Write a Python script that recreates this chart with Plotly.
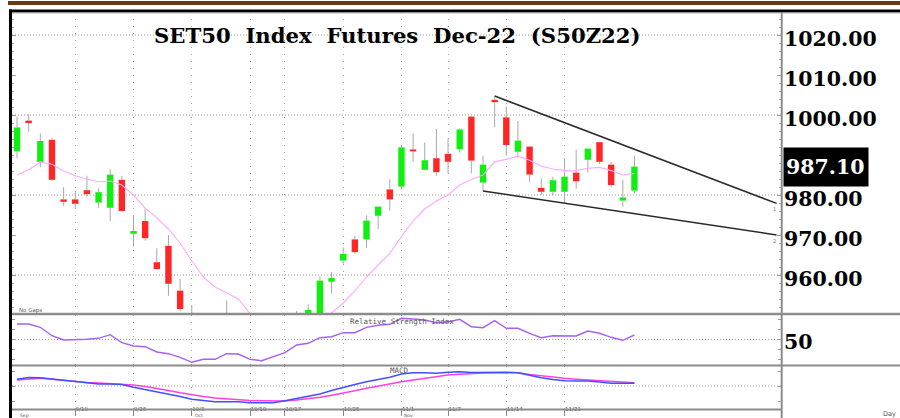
import plotly.graph_objects as go

# ---------------- data ----------------
open_ = [990.9, 998.6, 988.3, 993.8, 978.9, 978.9, 981.2, 978.1, 976.8, 983.8,
         970.3, 973.5, 963.2, 967.3, 956.1, 948.0, 943.0, 939.0, 945.0, 946.0,
         940.0, 934.0, 938.0, 942.0, 940.0, 949.6, 949.5, 958.3, 963.6, 968.9,
         968.9, 974.8, 981.4, 982.1, 991.3, 986.3, 989.2, 990.3, 991.5, 999.6,
         983.1, 1003.8, 999.4, 990.8, 992.1, 981.8, 980.8, 980.8, 985.6, 988.8,
         993.2, 987.6, 978.6, 981.1]
high = [999.6, 1000.2, 995.4, 994.3, 982.0, 981.0, 984.8, 981.7, 986.4, 984.8,
        974.7, 976.7, 966.7, 970.0, 959.0, 952.5, 948.0, 947.0, 953.6, 949.0,
        944.0, 940.0, 945.0, 948.0, 951.0, 952.7, 959.6, 960.7, 966.9, 969.8,
        974.9, 977.1, 983.9, 992.3, 995.4, 993.1, 996.5, 994.2, 996.7, 999.8,
        989.8, 1004.6, 1002.1, 998.5, 992.3, 984.2, 984.6, 989.2, 991.3, 991.6,
        993.2, 988.3, 983.8, 989.8]
low = [989.2, 995.8, 986.9, 983.5, 977.3, 976.5, 979.6, 976.8, 973.5, 976.0,
       967.2, 968.6, 961.5, 954.8, 951.0, 941.0, 936.0, 935.0, 942.0, 938.0,
       932.0, 930.0, 934.0, 937.0, 938.0, 947.5, 948.5, 955.4, 962.8, 965.3,
       966.7, 971.5, 976.1, 981.4, 988.3, 986.3, 984.8, 985.4, 990.6, 985.4,
       981.1, 996.9, 989.8, 989.3, 983.2, 980.0, 980.0, 977.9, 981.5, 985.6,
       987.8, 982.0, 977.1, 980.4]
close = [996.9, 998.0, 993.5, 983.8, 978.3, 977.8, 980.2, 980.7, 985.1, 976.0,
         971.0, 969.2, 961.5, 957.8, 951.5, 943.0, 938.0, 945.0, 947.0, 940.0,
         934.0, 938.0, 943.0, 939.0, 949.0, 951.3, 958.6, 959.3, 965.3, 965.7,
         973.6, 977.1, 978.9, 991.9, 990.9, 988.7, 985.7, 988.3, 996.4, 988.6,
         987.6, 1003.2, 992.5, 993.6, 985.1, 980.8, 983.7, 984.6, 983.4, 991.6,
         988.3, 982.5, 979.4, 987.1]
moving_avg = [985.0, 986.3, 988.2, 987.7, 986.0, 984.8, 984.0, 983.3, 983.5, 982.5,
              980.0, 976.7, 974.3, 971.5, 968.0, 963.5, 959.5, 957.0, 955.5, 954.0,
              950.3, 947.0, 944.0, 942.0, 942.0, 944.0, 947.0, 950.5, 953.0, 956.0,
              959.5, 962.5, 965.4, 969.6, 973.5, 976.5, 978.5, 980.0, 982.5, 983.9,
              985.0, 988.3, 988.9, 989.7, 988.7, 987.2, 986.5, 986.1, 986.1, 986.7,
              986.9, 986.1, 985.0, 985.4]
rsi = [65.3, 65.3, 62.0, 53.6, 49.3, 49.3, 50.0, 51.0, 54.6, 46.6,
       43.3, 42.6, 37.3, 35.6, 32.0, 27.0, 30.0, 30.0, 35.6, 35.3,
       30.0, 28.6, 32.6, 36.6, 44.3, 46.0, 51.6, 52.6, 56.6, 56.6,
       62.0, 64.0, 65.0, 71.0, 70.3, 69.3, 66.6, 67.3, 70.0, 62.6,
       61.6, 68.6, 61.0, 61.0, 56.0, 51.6, 53.6, 53.6, 53.3, 58.3,
       56.0, 52.0, 49.0, 54.3]
macd = [3.35, 4.25, 4.15, 3.5, 2.75, 2.0, 1.35, 1.0, 1.0, 0.75,
        -0.65, -1.75, -2.85, -4.0, -5.25, -6.65, -7.4, -7.85, -7.85, -7.85,
        -8.35, -8.45, -8.35, -7.35, -6.25, -5.15, -4.0, -2.25, -0.65, 0.75,
        2.15, 3.25, 4.35, 6.0, 6.65, 6.65, 6.4, 6.85, 7.15, 6.75,
        6.9, 7.0, 6.85, 6.65, 5.25, 4.15, 3.25, 2.65, 2.55, 2.5,
        2.0, 1.35, 1.35, 1.35]
macd_signal = [3.0, 3.5, 3.85, 3.35, 2.75, 2.15, 1.8, 1.5, 1.15, 0.85,
               0.5, -0.3, -1.15, -2.25, -3.4, -4.5, -5.25, -6.0, -6.5, -7.0,
               -7.25, -7.4, -7.5, -7.5, -7.0, -6.35, -5.65, -4.65, -3.65, -2.4,
               -1.15, 0.0, 1.1, 2.15, 3.0, 3.85, 4.75, 5.5, 5.9, 6.35,
               6.5, 6.6, 6.65, 6.65, 5.75, 5.0, 4.4, 3.85, 3.4, 3.0,
               2.75, 2.5, 2.1, 1.65]
days = list(range(len(close)))

week_ticks = [5, 10, 15, 20, 23, 28, 33, 37, 42, 47]
week_labels = ["9/19", "9/26", "10/3", "10/10", "10/17", "10/25", "11/1", "11/7", "11/14", "11/21"]
month_ticks = [0, 15, 33]
month_labels = ["Sep", "Oct", "Nov"]

price_ticks = [960, 970, 980, 1000, 1010, 1020]
price_grid = [960, 980, 1000, 1020]

trend1_x = [41, 65.2]
trend1_y = [1004.75, 977.9]
trend2_x = [40, 65.2]
trend2_y = [981.0, 970.0]

# ---------------- layout helpers ----------------
W, H = 900, 418
ML, MR, MT, MB = 12, 119, 12, 9
PW, PH = W - ML - MR, H - MT - MB


def px(x):
    return (x - ML) / PW


def py(y):
    return (H - MB - y) / PH


UP, DOWN, WICK = "#10f010", "#ff2626", "#a8a8a8"

# wicks drawn as two segments so they stay outside of the bodies
wx, wy = [], []
for i, o, h, l, c in zip(days, open_, high, low, close):
    top, bot = max(o, c), min(o, c)
    wx += [i, i, None, i, i, None]
    wy += [h, top, None, bot, l, None]

body_base = [min(o, c) for o, c in zip(open_, close)]
body_len = [max(abs(c - o), 0.5) for o, c in zip(open_, close)]
body_col = [UP if c >= o else DOWN for o, c in zip(open_, close)]

fig = go.Figure()
fig.add_trace(go.Scatter(x=wx, y=wy, mode="lines", line=dict(color=WICK, width=1),
                         hoverinfo="skip", xaxis="x", yaxis="y"))
fig.add_trace(go.Bar(x=days, y=body_len, base=body_base, width=0.55,
                     marker=dict(color=body_col, line=dict(width=0)),
                     xaxis="x", yaxis="y"))
fig.add_trace(go.Scatter(x=days, y=moving_avg, mode="lines",
                         line=dict(color="#ffa8ff", width=1.1), xaxis="x", yaxis="y"))
fig.add_trace(go.Scatter(x=trend1_x, y=trend1_y, mode="lines",
                         line=dict(color="#2a2a2a", width=1.5), xaxis="x", yaxis="y"))
fig.add_trace(go.Scatter(x=trend2_x, y=trend2_y, mode="lines",
                         line=dict(color="#2a2a2a", width=1.5), xaxis="x", yaxis="y"))
fig.add_trace(go.Scatter(x=days, y=rsi, mode="lines",
                         line=dict(color="#a860f0", width=1.4), xaxis="x2", yaxis="y2"))
fig.add_trace(go.Scatter(x=days, y=macd_signal, mode="lines",
                         line=dict(color="#ff40e0", width=1.5), xaxis="x3", yaxis="y3"))
fig.add_trace(go.Scatter(x=days, y=macd, mode="lines",
                         line=dict(color="#4050ff", width=1.5), xaxis="x3", yaxis="y3"))

xrange = [-0.43, 65.58]
xcommon = dict(range=xrange, tickvals=week_ticks, showgrid=True, gridcolor="#a0a0a0",
               griddash="1px,6px", gridwidth=1, zeroline=False, showline=False,
               fixedrange=True)

ytick_font = dict(family="DejaVu Serif", size=20.5, color="black", weight="bold")

fig.update_layout(
    width=W, height=H,
    margin=dict(l=ML, r=MR, t=MT, b=MB, autoexpand=False),
    paper_bgcolor="white", plot_bgcolor="white",
    showlegend=False, hovermode=False, barmode="overlay",
    xaxis=dict(domain=[0, 1], anchor="y", showticklabels=False, ticks="", **xcommon),
    xaxis2=dict(domain=[0, 1], anchor="y2", matches="x", showticklabels=False, ticks="", **xcommon),
    xaxis3=dict(domain=[0, 1], anchor="y3", matches="x", ticktext=week_labels,
                showticklabels=True, ticks="outside", ticklen=6, tickcolor="#888",
                ticklabelposition="outside right", ticklabelstandoff=-6,
                tickfont=dict(family="DejaVu Sans", size=5.5, color="#555"), **xcommon),
    yaxis=dict(domain=[py(313), 1], anchor="x", side="right", range=[950.5, 1025.75],
               tickvals=price_ticks, tickformat=".2f", tickfont=ytick_font,
               ticks="inside", ticklen=4, tickcolor="#999", mirror="ticks",
               ticklabelshift=4, ticklabelstandoff=2,
               minor=dict(dtick=2, ticks="inside", ticklen=2, tickcolor="#aaa"),
               showgrid=False, zeroline=False, showline=False, fixedrange=True),
    yaxis2=dict(domain=[py(365), py(315)], anchor="x2", side="right", range=[24.3, 74.3],
                tickvals=[50], tickfont=ytick_font, ticks="inside", ticklen=4,
                tickcolor="#999", mirror="ticks", ticklabelshift=3, ticklabelstandoff=2,
                minor=dict(tick0=0, dtick=10, ticks="inside", ticklen=3, tickcolor="#999"),
                showgrid=True, gridcolor="#a0a0a0", griddash="1px,2px",
                zeroline=False, showline=False, fixedrange=True),
    yaxis3=dict(domain=[0, py(366)], anchor="x3", side="right", range=[-11.5, 10],
                tickvals=[-7.5, 0, 7.5], showticklabels=False, ticks="inside", ticklen=3,
                tickcolor="#999", mirror="ticks", showgrid=False, zeroline=False,
                showline=False, fixedrange=True),
)

shapes = []
# horizontal dotted price grid
for v in price_grid:
    shapes.append(dict(type="line", xref="paper", yref="y", x0=0, x1=1, y0=v, y1=v,
                       line=dict(color="#9a9a9a", width=1, dash="1px,2px"), layer="below"))
# MACD zero line
shapes.append(dict(type="line", xref="paper", yref="y3", x0=0, x1=1, y0=0, y1=0,
                   line=dict(color="#9a9a9a", width=1, dash="1px,2px"), layer="below"))
# panel separators / frame
SEP = "#8c8c8c"
shapes += [
    dict(type="line", xref="paper", yref="paper", x0=px(12), x1=px(900), y0=py(314), y1=py(314),
         line=dict(color=SEP, width=2.5)),
    dict(type="line", xref="paper", yref="paper", x0=px(12), x1=px(900), y0=py(365.5), y1=py(365.5),
         line=dict(color=SEP, width=2)),
    dict(type="line", xref="paper", yref="paper", x0=px(12), x1=px(781.5), y0=py(409.5), y1=py(409.5),
         line=dict(color=SEP, width=2)),
    dict(type="line", xref="paper", yref="paper", x0=px(781.7), x1=px(781.7), y0=py(12), y1=py(420),
         line=dict(color=SEP, width=2)),
    dict(type="line", xref="paper", yref="paper", x0=px(10.5), x1=px(10.5), y0=py(9.5), y1=py(420),
         line=dict(color="black", width=3)),
    dict(type="line", xref="paper", yref="paper", x0=px(9), x1=px(900), y0=py(11), y1=py(11),
         line=dict(color="black", width=3)),
    dict(type="line", xref="paper", yref="paper", x0=px(12), x1=px(900), y0=py(13), y1=py(13),
         line=dict(color="#b0b0b0", width=1)),
    dict(type="rect", xref="paper", yref="paper", x0=px(8), x1=px(900), y0=py(5), y1=py(1),
         fillcolor="#6a3a0c", line=dict(width=0)),
]
fig.update_layout(shapes=shapes)

small = dict(family="DejaVu Sans Mono", size=7.5, color="#555")
annotations = [
    dict(text="SET50\u00a0\u00a0Index\u00a0\u00a0Futures\u00a0\u00a0Dec-22\u00a0\u00a0(S50Z22)",
         xref="paper", yref="paper", x=px(397), y=py(35), xanchor="center", yanchor="middle",
         showarrow=False, font=dict(family="DejaVu Serif", size=21.2, color="black", weight="bold")),
    dict(text=f"{close[-1]:.2f}", xref="paper", yref="y", x=px(782.7), y=close[-1],
         xanchor="left", yanchor="middle", showarrow=False, bgcolor="black",
         width=80, height=34, borderpad=2, align="left", valign="middle",
         font=dict(family="DejaVu Serif", size=20.5, color="white", weight="bold")),
    dict(text="Relative Strength Index", xref="paper", yref="paper", x=px(348), y=py(321),
         xanchor="left", yanchor="middle", showarrow=False, font=small),
    dict(text="MACD", xref="paper", yref="paper", x=px(388), y=py(370.5),
         xanchor="left", yanchor="middle", showarrow=False, font=small),
    dict(text="No Gaps", xref="paper", yref="paper", x=px(17), y=py(310.5),
         xanchor="left", yanchor="middle", showarrow=False,
         font=dict(family="DejaVu Sans", size=5.5, color="#666")),
    dict(text="Day", xref="paper", yref="paper", x=px(889), y=py(413.5),
         xanchor="center", yanchor="middle", showarrow=False,
         font=dict(family="DejaVu Sans", size=6.5, color="#555")),
    dict(text="1", x=trend1_x[-1], y=trend1_y[-1], xref="x", yref="y", yshift=-6, xshift=-2,
         showarrow=False, font=dict(family="DejaVu Sans", size=5, color="#777")),
    dict(text="2", x=trend2_x[-1], y=trend2_y[-1], xref="x", yref="y", yshift=-6, xshift=-2,
         showarrow=False, font=dict(family="DejaVu Sans", size=5, color="#777")),
]
for t, lbl in zip(month_ticks, month_labels):
    annotations.append(dict(text=lbl, xref="x3", yref="paper", x=t, y=py(418.5),
                            xanchor="left", yanchor="bottom", xshift=2, showarrow=False,
                            borderpad=0, font=dict(family="DejaVu Sans", size=4.5, color="#555")))
fig.update_layout(annotations=annotations)

fig.write_html("out.html", config={"displayModeBar": False},
               post_script="document.body.style.margin='0';document.body.style.overflow='hidden';")
